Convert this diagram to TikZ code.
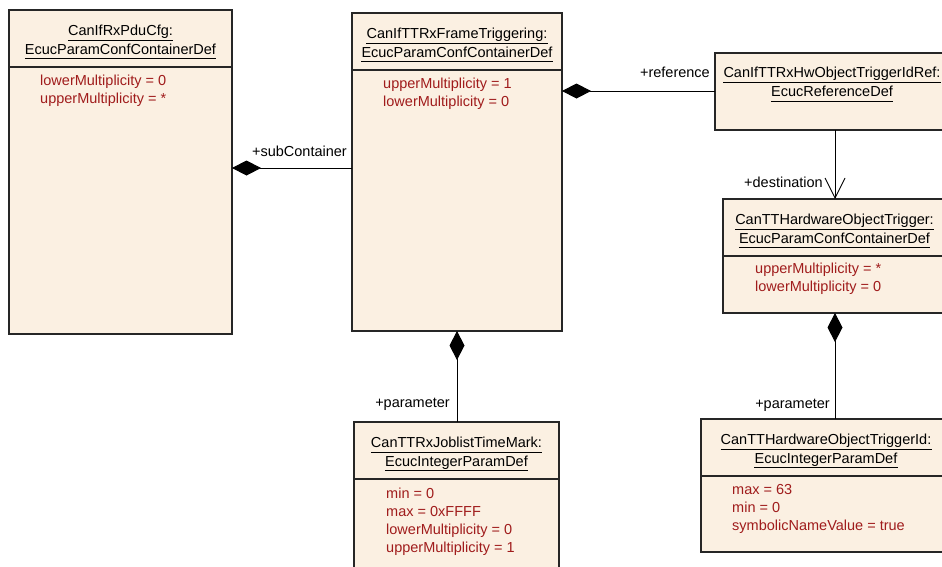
\documentclass[tikz,border=0pt]{standalone}
\usepackage{fontspec}
\setmainfont{Liberation Sans}
\usetikzlibrary{arrows.meta}
\definecolor{boxfill}{RGB}{251,240,226}
\definecolor{attrred}{RGB}{160,28,28}
\tikzset{
 box/.style={draw=black!85, line width=1.1pt, fill=boxfill, anchor=north west, inner sep=0pt, outer sep=0pt},
 tline/.style={anchor=base, inner sep=0pt, font=\fontsize{14.5}{17}\selectfont},
 attr/.style={anchor=base west, inner sep=0pt, font=\fontsize{14.5}{17}\selectfont, text=attrred},
 lbl/.style={anchor=base east, inner sep=0pt, font=\fontsize{14.5}{17}\selectfont},
 uline/.style={line width=0.9pt},
 divider/.style={line width=1.1pt, draw=black!85},
 conn/.style={line width=0.9pt},
 comp/.style={conn, -{Diamond[length=29pt,width=15pt]}},
 nav/.style={conn, -{Straight Barb[length=20pt,width=20pt]}},
}
\newcommand\umlTitle[4]{%
  \node[tline] (#1) at (#2,#3) {#4};
  \draw[uline] ([yshift=-4.5pt]#1.base west) -- ([yshift=-4.5pt]#1.base east);}
\begin{document}
\begin{tikzpicture}[x=1pt,y=-1pt]
\useasboundingbox (0,0) rectangle (942,566);
\fill[white] (0,0) rectangle (942,566);
\clip (0,0) rectangle (942,566);

% boxes
\node[box, minimum width=223pt, minimum height=324pt] (b1) at (9,10) {};
\node[box, minimum width=210pt, minimum height=318pt] (b2) at (352,13) {};
\node[box, minimum width=234pt, minimum height=77pt] (b3) at (715,53) {};
\node[box, minimum width=223pt, minimum height=114pt] (b4) at (723,199) {};
\node[box, minimum width=205pt, minimum height=160pt] (b5) at (354,422) {};
\node[box, minimum width=250pt, minimum height=133pt] (b6) at (701,419) {};

% box 1
\umlTitle{t1a}{120.5}{35.5}{CanIfRxPduCfg:}
\umlTitle{t1b}{120.5}{54}{EcucParamConfContainerDef}
\draw[divider] (b1.west |- 0,67) -- (b1.east |- 0,67);
\node[attr] (a1a) at (40,85) {lowerMultiplicity = 0};
\node[attr] (a1b) at (40,103) {upperMultiplicity = *};

% box 2
\umlTitle{t2a}{457}{38.5}{CanIfTTRxFrameTriggering:}
\umlTitle{t2b}{457}{57}{EcucParamConfContainerDef}
\draw[divider] (b2.west |- 0,70) -- (b2.east |- 0,70);
\node[attr] (a2a) at (383,88) {upperMultiplicity = 1};
\node[attr] (a2b) at (383,106) {lowerMultiplicity = 0};

% box 3
\umlTitle{t3a}{832}{77.5}{CanIfTTRxHwObjectTriggerIdRef:}
\umlTitle{t3b}{832}{96.5}{EcucReferenceDef}

% box 4
\umlTitle{t4a}{834.5}{224.5}{CanTTHardwareObjectTrigger:}
\umlTitle{t4b}{834.5}{243}{EcucParamConfContainerDef}
\draw[divider] (b4.west |- 0,256) -- (b4.east |- 0,256);
\node[attr] (a4a) at (755,273) {upperMultiplicity = *};
\node[attr] (a4b) at (755,291) {lowerMultiplicity = 0};

% box 5
\umlTitle{t5a}{456.5}{447.5}{CanTTRxJoblistTimeMark:}
\umlTitle{t5b}{456.5}{466}{EcucIntegerParamDef}
\draw[divider] (b5.west |- 0,479) -- (b5.east |- 0,479);
\node[attr] (a5a) at (386,498) {min = 0};
\node[attr] (a5b) at (386,516) {max = 0xFFFF};
\node[attr] (a5c) at (386,534) {lowerMultiplicity = 0};
\node[attr] (a5d) at (386,552) {upperMultiplicity = 1};

% box 6
\umlTitle{t6a}{826}{444.5}{CanTTHardwareObjectTriggerId:}
\umlTitle{t6b}{826}{463}{EcucIntegerParamDef}
\draw[divider] (b6.west |- 0,476) -- (b6.east |- 0,476);
\node[attr] (a6a) at (732,494) {max = 63};
\node[attr] (a6b) at (732,512) {min = 0};
\node[attr] (a6c) at (732,530) {symbolicNameValue = true};

% connectors
\draw[comp] (b2.west |- 0,168) -- (b1.east |- 0,168);
\node[lbl] (l1) at (347,156) {+subContainer};

\draw[comp] (b3.west |- 0,91) -- (b2.east |- 0,91);
\node[lbl] (l2) at (710,77) {+reference};

\draw[nav] (b3.south -| 835,0) -- (b4.north -| 835,0);
\node[lbl] (l3) at (823,187) {+destination};

\draw[comp] (b5.north -| 457,0) -- (b2.south -| 457,0);
\node[lbl] (l4) at (450,407) {+parameter};

\draw[comp] (b6.north -| 835,0) -- (b4.south -| 835,0);
\node[lbl] (l5) at (830,408) {+parameter};
\end{tikzpicture}
\end{document}
